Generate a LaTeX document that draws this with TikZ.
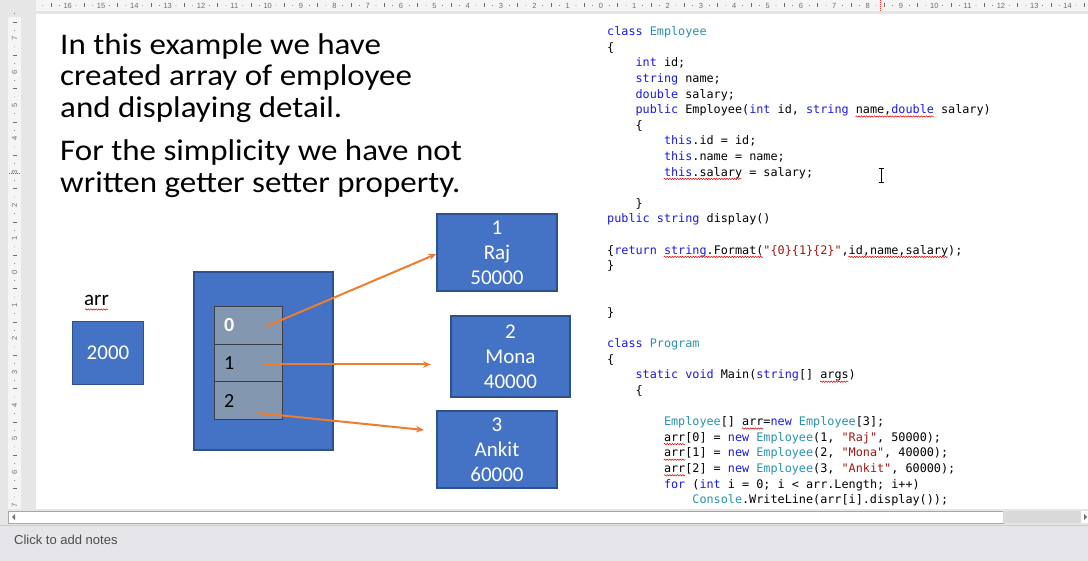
\documentclass[tikz,border=0pt]{standalone}
\usepackage{fontspec}
\setmainfont{Carlito}
\newfontfamily\slidefont[FakeStretch=1.10]{Carlito}
\newfontfamily\codefont{DejaVu Sans Mono}
\newfontfamily\uifont{Liberation Sans}
\usetikzlibrary{arrows.meta,decorations.pathmorphing}
\definecolor{officeblue}{HTML}{4472C4}
\definecolor{blueborder}{HTML}{2F528F}
\definecolor{cellgray}{HTML}{8497B0}
\definecolor{cellborder}{HTML}{3A3F4A}
\definecolor{arroworange}{HTML}{ED7D31}
\definecolor{kwblue}{HTML}{1A1AE6}
\definecolor{tyteal}{HTML}{2B91AF}
\definecolor{strred}{HTML}{A31515}
\definecolor{chromebg}{HTML}{E6E6E6}
\definecolor{rulerbg}{HTML}{F5F5F5}
\definecolor{rulerink}{HTML}{6E6E6E}
\definecolor{notesbg}{HTML}{E6E6EA}
\definecolor{scrollgray}{HTML}{D9D9D9}
\newcommand\KW[1]{\textcolor{kwblue}{#1}}
\newcommand\TY[1]{\textcolor{tyteal}{#1}}
\newcommand\ST[1]{\textcolor{strred}{#1}}
\tikzset{
  slidetext/.style={anchor=base west, inner sep=0, font=\slidefont\fontsize{30}{32}\selectfont},
  empbox/.style={rectangle, draw=blueborder, fill=officeblue, line width=1.2pt, text=white,
    font=\fontsize{21}{25}\selectfont, align=center, inner sep=0},
  membox/.style={rectangle, draw=blueborder, fill=officeblue, line width=1.2pt, inner sep=0},
  cellbox/.style={rectangle, draw=cellborder, fill=cellgray, line width=0.9pt,
    minimum width=68, minimum height=37.7, inner sep=0},
  celltext/.style={anchor=west, inner sep=0, font=\fontsize{20}{24}\selectfont},
  ptr/.style={draw=arroworange, line width=2pt, -{Stealth[length=8pt,width=6.5pt]}},
  codeline/.style={anchor=base west, inner sep=0, font=\codefont\fontsize{11.8}{15.6}\selectfont},
  squig/.style={draw=red!85!black, line width=0.5pt, decorate,
    decoration={snake, amplitude=0.7pt, segment length=2.6pt}},
  rnum/.style={inner sep=0, font=\uifont\fontsize{7.5}{8}\selectfont, text=rulerink},
  rtick/.style={draw=rulerink, line width=0.6pt},
  notes/.style={inner sep=0, font=\uifont\fontsize{13}{15}\selectfont, text=black!70}
}
\begin{document}
\begin{tikzpicture}[x=1pt,y=-1pt]
\useasboundingbox (0,0) rectangle (1088,561);
% window chrome
\fill[chromebg] (0,0) rectangle (1088,561);
\fill[rulerbg] (36,0) rectangle (1088,11);
\fill[rulerbg] (8,17) rectangle (21,509);
\fill[white] (36,14) rectangle (1088,509);
% top ruler
\node[rnum] (t0) at (601,5.5) {0};
\foreach \i in {1,...,16}{\node[rnum] (tl\i) at ({601-\i*33.33},5.5) {\i};}
\foreach \i in {1,...,14}{\node[rnum] (tr\i) at ({601+\i*33.33},5.5) {\i};}
\foreach \i in {-17,...,14}{
  \draw[rtick] ({601+(\i+0.5)*33.33},3.5) -- ++(0,4);
  \fill[rulerink] ({601+(\i+0.25)*33.33},5.5) circle (0.45);
  \fill[rulerink] ({601+(\i+0.75)*33.33},5.5) circle (0.45);
}
\draw[red!80, line width=0.6pt, dash pattern=on 1pt off 1pt] (880,0) -- (880,11);
% vertical ruler
\node[rnum, rotate=90] (v0) at (14.5,272) {0};
\foreach \i in {1,...,7}{
  \node[rnum, rotate=90] (vu\i) at (14.5,{272-\i*33.33}) {\i};
  \node[rnum, rotate=90] (vd\i) at (14.5,{272+\i*33.33}) {\i};
}
\foreach \i in {-8,...,6}{
  \draw[rtick] (12.5,{272+(\i+0.5)*33.33}) -- ++(4,0);
  \fill[rulerink] (14.5,{272+(\i+0.25)*33.33}) circle (0.45);
  \fill[rulerink] (14.5,{272+(\i+0.75)*33.33}) circle (0.45);
}
\draw[red!80, line width=0.6pt, dash pattern=on 1pt off 1pt] (9,173) -- (21,173);
% slide text
\node[slidetext] (p1) at (60,54.5) {In this example we have};
\node[slidetext] (p2) at (60,86) {created array of employee};
\node[slidetext] (p3) at (60,117.5) {and displaying detail.};
\node[slidetext] (p4) at (60,161) {For the simplicity we have not};
\node[slidetext] (p5) at (60,192.7) {written getter setter property.};
% variable arr
\node[anchor=base, inner sep=0, font=\fontsize{21}{24}\selectfont] (arrlbl) at (96.5,306) {arr};
\draw[squig] (85,309.5) -- (108,309.5);
\node[empbox, minimum width=71, minimum height=63] (var) at (108,353) {2000};
% array object
\node[membox, minimum width=139, minimum height=178] (mem) at (263.5,361) {};
\node[cellbox] (c0) at (248.3,325.2) {};
\node[cellbox] (c1) at (248.3,362.9) {};
\node[cellbox] (c2) at (248.3,400.6) {};
\node[celltext, text=white, font=\bfseries\fontsize{20}{24}\selectfont] (l0) at ([xshift=10pt]c0.west) {0};
\node[celltext] (l1) at ([xshift=10pt]c1.west) {1};
\node[celltext] (l2) at ([xshift=10pt]c2.west) {2};
% employee objects
\node[empbox, minimum width=120, minimum height=77] (e1) at (497,252.5) {1\\Raj\\50000};
\node[empbox, minimum width=119, minimum height=81] (e2) at (510.5,356.5) {2\\Mona\\40000};
\node[empbox, minimum width=120, minimum height=77] (e3) at (497,449.5) {3\\Ankit\\60000};
% references
\coordinate (a0s) at (265,327);
\coordinate (a1s) at (264,364.5);
\coordinate (a2s) at (258,413);
\coordinate (a1e) at (431,364.5);
\coordinate (a2e) at (424,430);
\draw[ptr] (a0s) -- ([yshift=-1.5pt]e1.west);
\draw[ptr] (a1s) -- (a1e);
\draw[ptr] (a2s) -- (a2e);
% code
\newcommand\codeat[3]{\node[codeline] (code#1) at ({607+#2*7.1},{35.7+15.6*#1}) {#3};}
\codeat{0}{0}{\KW{class} \TY{Employee}}
\codeat{1}{0}{\{}
\codeat{2}{4}{\KW{int} id;}
\codeat{3}{4}{\KW{string} name;}
\codeat{4}{4}{\KW{double} salary;}
\codeat{5}{4}{\KW{public} Employee(\KW{int} id, \KW{string} name,\KW{double} salary)}
\codeat{6}{4}{\{}
\codeat{7}{8}{\KW{this}.id = id;}
\codeat{8}{8}{\KW{this}.name = name;}
\codeat{9}{8}{\KW{this}.salary = salary;}
\codeat{11}{4}{\}}
\codeat{12}{0}{\KW{public} \KW{string} display()}
\codeat{14}{0}{\{\KW{return} \KW{string}.Format(\ST{"\{0\}\{1\}\{2\}"},id,name,salary);}
\codeat{15}{0}{\}}
\codeat{18}{0}{\}}
\codeat{20}{0}{\KW{class} \TY{Program}}
\codeat{21}{0}{\{}
\codeat{22}{4}{\KW{static} \KW{void} Main(\KW{string}[] args)}
\codeat{23}{4}{\{}
\codeat{25}{8}{\TY{Employee}[] arr=\KW{new} \TY{Employee}[3];}
\codeat{26}{8}{arr[0] = \KW{new} \TY{Employee}(1, \ST{"Raj"}, 50000);}
\codeat{27}{8}{arr[1] = \KW{new} \TY{Employee}(2, \ST{"Mona"}, 40000);}
\codeat{28}{8}{arr[2] = \KW{new} \TY{Employee}(3, \ST{"Ankit"}, 60000);}
\codeat{29}{8}{\KW{for} (\KW{int} i = 0; i < arr.Length; i++)}
\codeat{30}{12}{\TY{Console}.WriteLine(arr[i].display());}
% spell-check squiggles
\newcommand\squigat[3]{\draw[squig] ({607+#2*7.1},{38.5+15.6*#1}) -- ({607+#3*7.1},{38.5+15.6*#1});}
\squigat{5}{35}{46}
\squigat{9}{8}{19}
\squigat{14}{8}{22}
\squigat{14}{34}{48}
\squigat{22}{30}{34}
\squigat{25}{19}{22}
\squigat{26}{8}{11}
\squigat{27}{8}{11}
\squigat{28}{8}{11}
% text cursor
\draw[black, line width=0.7pt] (878.5,168.5) -- (883.5,168.5) (881,168.5) -- (881,182) (878.5,182) -- (883.5,182);
% bottom scrollbar and notes pane
\fill[chromebg] (0,509) rectangle (1088,561);
\draw[fill=white, draw=black!35] (8,511) rectangle (1003,523);
\fill[scrollgray] (1003,511) rectangle (1081,523);
\fill[white] (1081,511) rectangle (1088,523);
\fill[black!55] (15,514) -- (12,517) -- (15,520) -- cycle;
\fill[black!55] (1084,514) -- (1087,517) -- (1084,520) -- cycle;
\draw[black!20] (0,525.5) -- (1088,525.5);
\fill[notesbg] (0,526) rectangle (1088,561);
\node[notes, anchor=west] (notes) at (14,540) {Click to add notes};
\end{tikzpicture}
\end{document}
